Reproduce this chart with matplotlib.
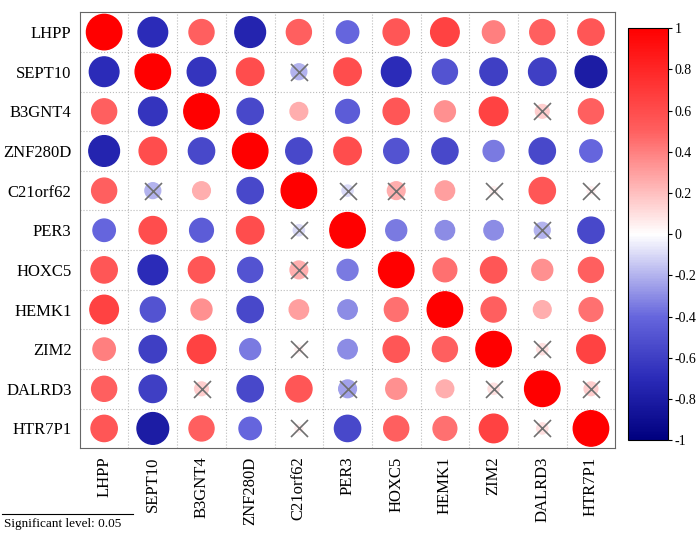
import numpy as np
import matplotlib.pyplot as plt
from matplotlib.colors import LinearSegmentedColormap, Normalize

genes = ['LHPP', 'SEPT10', 'B3GNT4', 'ZNF280D', 'C21orf62', 'PER3',
         'HOXC5', 'HEMK1', 'ZIM2', 'DALRD3', 'HTR7P1']

corr = np.array([
    [1, -0.7, 0.5, -0.75, 0.5, -0.4, 0.55, 0.65, 0.4, 0.5, 0.55],
    [-0.7, 1, -0.65, 0.6, -0.2, 0.6, -0.7, -0.5, -0.6, -0.6, -0.8],
    [0.5, -0.65, 1, -0.55, 0.25, -0.45, 0.55, 0.35, 0.65, 0.15, 0.5],
    [-0.75, 0.6, -0.55, 1, -0.55, 0.6, -0.5, -0.55, -0.35, -0.55, -0.4],
    [0.5, -0.2, 0.25, -0.55, 1, -0.1, 0.25, 0.3, 0.05, 0.55, 0.05],
    [-0.4, 0.6, -0.45, 0.6, -0.1, 1, -0.35, -0.3, -0.3, -0.2, -0.55],
    [0.55, -0.7, 0.55, -0.5, 0.25, -0.35, 1, 0.45, 0.55, 0.35, 0.5],
    [0.65, -0.5, 0.35, -0.55, 0.3, -0.3, 0.45, 1, 0.5, 0.25, 0.45],
    [0.4, -0.6, 0.65, -0.35, 0.05, -0.3, 0.55, 0.5, 1, 0.1, 0.65],
    [0.5, -0.6, 0.15, -0.55, 0.55, -0.25, 0.35, 0.25, 0.1, 1, 0.15],
    [0.55, -0.8, 0.5, -0.4, 0.05, -0.55, 0.5, 0.45, 0.65, 0.1, 1],
])

# non-significant cells (crossed out)
nonsig = [('SEPT10', 'C21orf62'), ('C21orf62', 'SEPT10'), ('C21orf62', 'PER3'),
          ('C21orf62', 'HOXC5'), ('C21orf62', 'ZIM2'), ('C21orf62', 'HTR7P1'),
          ('B3GNT4', 'DALRD3'), ('DALRD3', 'B3GNT4'), ('PER3', 'C21orf62'),
          ('PER3', 'DALRD3'), ('DALRD3', 'PER3'), ('HOXC5', 'C21orf62'),
          ('ZIM2', 'C21orf62'), ('ZIM2', 'DALRD3'), ('DALRD3', 'ZIM2'),
          ('DALRD3', 'HTR7P1'), ('HTR7P1', 'C21orf62'), ('HTR7P1', 'DALRD3')]

plt.rcParams['font.family'] = 'Liberation Serif'
cmap = LinearSegmentedColormap.from_list(
    'rb', [(0, '#00007F'), (0.15, '#2B2BB8'), (0.3, '#6666DD'),
           (0.5, '#FFFFFF'), (0.75, '#FF6060'), (1, '#FF0000')])
norm = Normalize(-1, 1)

fig = plt.figure(figsize=(7, 5.33), dpi=100)
ax = fig.add_axes([0.114, 0.159, 0.765, 0.818])
n = len(genes)
xs, ys = np.meshgrid(np.arange(n), np.arange(n))
ax.scatter(xs.ravel(), ys.ravel(), s=650 * np.abs(corr).ravel(),
           c=corr.ravel(), cmap=cmap, norm=norm, zorder=3)
for r, c in nonsig:
    ax.scatter(genes.index(c), genes.index(r), marker='x', s=150,
               color='#707070', linewidths=1.2, zorder=4)

ax.set_xlim(-0.5, n - 0.5)
ax.set_ylim(n - 0.5, -0.5)
for k in np.arange(0.5, n - 0.5):
    ax.axvline(k, color='#BBBBBB', ls=':', lw=0.8)
    ax.axhline(k, color='#BBBBBB', ls=':', lw=0.8)
ax.set_xticks(range(n))
ax.set_xticklabels(genes, rotation=90, fontsize=12)
ax.set_yticks(range(n))
ax.set_yticklabels(genes, fontsize=12)
ax.tick_params(length=0, pad=6)
for s in ax.spines.values():
    s.set_color('#666666')

cax = fig.add_axes([0.897, 0.174, 0.057, 0.773])
sm = plt.cm.ScalarMappable(norm=norm, cmap=cmap)
cb = fig.colorbar(sm, cax=cax, ticks=np.round(np.arange(-1, 1.01, 0.2), 1))
cb.ax.set_yticklabels(['-1', '-0.8', '-0.6', '-0.4', '-0.2', '0',
                       '0.2', '0.4', '0.6', '0.8', '1'])
cb.ax.tick_params(labelsize=10, length=3, pad=2)
cb.outline.set_edgecolor('black')

fig.add_artist(plt.Line2D([0.003, 0.19], [0.036, 0.036], color='black', lw=0.8))
fig.text(0.006, 0.012, 'Significant level: 0.05', fontsize=9.5)

fig.savefig('out.png')
